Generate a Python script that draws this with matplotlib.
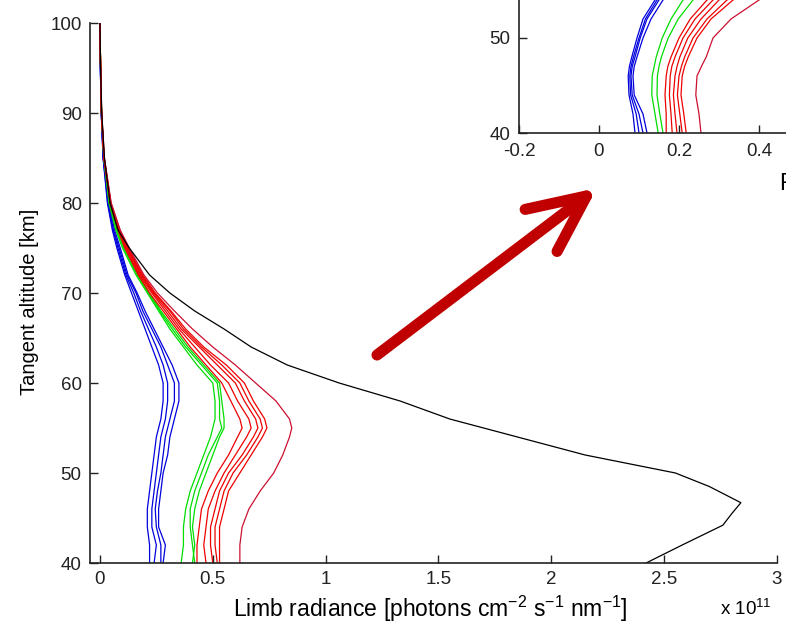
import matplotlib
matplotlib.use("Agg")
import matplotlib.pyplot as plt
from matplotlib.patches import FancyArrowPatch

plt.rcParams['font.family'] = ['Liberation Sans', 'DejaVu Sans']
plt.rcParams['font.size'] = 13

# altitude grid of the coloured model profiles [km]
alt = [100, 95, 90, 85, 80, 77, 75, 72, 70, 68, 66, 64, 62, 60, 58, 56, 55, 54, 52, 50, 48, 46, 44, 42, 40]

# black reference profile
alt_black = [100, 95, 90, 85, 80, 77, 75, 72, 70, 68, 66, 64, 62, 60, 58, 56, 54, 52, 50, 48.5, 46.7, 45.5, 44.2, 42, 40]
rad_black = [0.0, 0.003, 0.008, 0.02, 0.045, 0.08, 0.13, 0.22, 0.31, 0.42, 0.55, 0.67, 0.83, 1.06, 1.33,
             1.55, 1.85, 2.15, 2.55, 2.70, 2.84, 2.80, 2.76, 2.58, 2.42]

blue1 = [0, 0.002, 0.006, 0.014, 0.033, 0.055, 0.075, 0.11, 0.14, 0.17, 0.20, 0.23, 0.26, 0.28, 0.28, 0.27, 0.26, 0.25, 0.24, 0.23, 0.22, 0.21, 0.21, 0.22, 0.22]
blue2 = [0, 0.002, 0.006, 0.014, 0.035, 0.058, 0.08, 0.115, 0.15, 0.18, 0.215, 0.25, 0.28, 0.30, 0.30, 0.29, 0.28, 0.27, 0.26, 0.25, 0.24, 0.23, 0.23, 0.25, 0.24]
blue3 = [0, 0.002, 0.006, 0.015, 0.037, 0.06, 0.085, 0.12, 0.16, 0.19, 0.23, 0.27, 0.30, 0.33, 0.33, 0.31, 0.30, 0.29, 0.28, 0.27, 0.255, 0.245, 0.25, 0.27, 0.27]
blue4 = [0, 0.002, 0.006, 0.015, 0.04, 0.065, 0.09, 0.125, 0.165, 0.20, 0.24, 0.28, 0.32, 0.35, 0.35, 0.33, 0.32, 0.31, 0.30, 0.28, 0.27, 0.26, 0.26, 0.29, 0.28]

green1 = [0, 0.003, 0.007, 0.017, 0.04, 0.07, 0.10, 0.16, 0.21, 0.26, 0.31, 0.37, 0.43, 0.50, 0.51, 0.51, 0.50, 0.49, 0.46, 0.43, 0.40, 0.38, 0.37, 0.37, 0.36]
green2 = [0, 0.003, 0.007, 0.017, 0.042, 0.075, 0.105, 0.165, 0.215, 0.265, 0.32, 0.38, 0.45, 0.52, 0.53, 0.53, 0.54, 0.52, 0.48, 0.45, 0.42, 0.40, 0.40, 0.41, 0.42]
green3 = [0, 0.003, 0.007, 0.018, 0.043, 0.077, 0.11, 0.17, 0.22, 0.27, 0.33, 0.39, 0.46, 0.53, 0.54, 0.55, 0.55, 0.53, 0.50, 0.47, 0.44, 0.42, 0.41, 0.42, 0.41]

red1 = [0, 0.003, 0.007, 0.018, 0.045, 0.08, 0.11, 0.17, 0.22, 0.28, 0.34, 0.40, 0.47, 0.54, 0.58, 0.62, 0.63, 0.61, 0.57, 0.52, 0.48, 0.45, 0.44, 0.43, 0.43]
red2 = [0, 0.003, 0.007, 0.018, 0.046, 0.082, 0.115, 0.175, 0.23, 0.29, 0.35, 0.42, 0.49, 0.57, 0.61, 0.66, 0.67, 0.65, 0.60, 0.55, 0.51, 0.48, 0.47, 0.46, 0.47]
red3 = [0, 0.003, 0.007, 0.018, 0.047, 0.084, 0.12, 0.18, 0.235, 0.30, 0.36, 0.44, 0.52, 0.60, 0.64, 0.69, 0.70, 0.68, 0.63, 0.57, 0.53, 0.51, 0.49, 0.49, 0.50]
red4 = [0, 0.003, 0.007, 0.018, 0.048, 0.086, 0.122, 0.185, 0.24, 0.31, 0.37, 0.45, 0.54, 0.62, 0.66, 0.71, 0.72, 0.70, 0.65, 0.59, 0.55, 0.53, 0.51, 0.51, 0.52]
red5 = [0, 0.003, 0.007, 0.019, 0.049, 0.088, 0.125, 0.19, 0.245, 0.315, 0.38, 0.46, 0.56, 0.64, 0.68, 0.73, 0.74, 0.72, 0.67, 0.62, 0.57, 0.55, 0.53, 0.53, 0.53]
red6 = [0, 0.003, 0.008, 0.02, 0.05, 0.09, 0.13, 0.195, 0.255, 0.33, 0.41, 0.50, 0.60, 0.69, 0.78, 0.84, 0.85, 0.84, 0.81, 0.77, 0.71, 0.66, 0.63, 0.62, 0.62]

# inset (zoom of the lower part, second case)
alt_in = [40, 42, 44, 46, 47, 48, 50, 52, 54, 56]
blue_in = [
    [0.09, 0.085, 0.075, 0.073, 0.076, 0.082, 0.095, 0.11, 0.14, 0.18],
    [0.10, 0.093, 0.079, 0.077, 0.08, 0.086, 0.10, 0.116, 0.145, 0.19],
    [0.11, 0.10, 0.083, 0.08, 0.083, 0.09, 0.103, 0.12, 0.15, 0.195],
    [0.12, 0.11, 0.088, 0.085, 0.088, 0.095, 0.11, 0.13, 0.16, 0.205],
]
green_in = [
    [0.148, 0.14, 0.132, 0.133, 0.138, 0.143, 0.158, 0.18, 0.21, 0.25],
    [0.16, 0.152, 0.145, 0.146, 0.15, 0.156, 0.173, 0.198, 0.235, 0.28],
]
red_in = [
    [0.168, 0.168, 0.165, 0.168, 0.172, 0.18, 0.20, 0.228, 0.27, 0.33],
    [0.183, 0.18, 0.176, 0.178, 0.182, 0.19, 0.21, 0.24, 0.285, 0.35],
    [0.195, 0.19, 0.186, 0.19, 0.195, 0.202, 0.222, 0.255, 0.30, 0.37],
    [0.208, 0.202, 0.196, 0.20, 0.206, 0.214, 0.235, 0.27, 0.32, 0.39],
    [0.218, 0.212, 0.205, 0.208, 0.214, 0.223, 0.245, 0.28, 0.335, 0.41],
    [0.255, 0.25, 0.242, 0.245, 0.256, 0.268, 0.285, 0.33, 0.40, 0.48],
]

BLUE = '#0000dd'
GREEN = '#00dd00'
RED = '#ee0000'
CRIMSON = '#cc1030'

fig = plt.figure(figsize=(7.86, 6.32), dpi=100)
W, H = 786, 632

def style(ax):
    for s in ['top', 'right']:
        ax.spines[s].set_visible(False)
    for s in ['left', 'bottom']:
        ax.spines[s].set_linewidth(1.2)
        ax.spines[s].set_color('#222222')
    ax.tick_params(direction='in', length=6, width=1, pad=6, colors='#222222', labelsize=13.5)
    ax.tick_params(axis='y', pad=6)

# main axes
ax = fig.add_axes([90 / W, 1 - 563 / H, (777 - 90) / W, (563 - 23) / H])
style(ax)
for v in [blue1, blue2, blue3, blue4]:
    ax.plot(v, alt, color=BLUE, lw=0.9)
for v in [green1, green2, green3]:
    ax.plot(v, alt, color=GREEN, lw=0.9)
for v in [red1, red2, red3, red4, red5]:
    ax.plot(v, alt, color=RED, lw=0.9)
ax.plot(red6, alt, color=CRIMSON, lw=0.9)
ax.plot(rad_black, alt_black, color='black', lw=0.9)
ax.set_xlim(-0.044, 3.0)
ax.set_ylim(40, 100)
ax.set_xticks([0, 0.5, 1, 1.5, 2, 2.5, 3])
ax.set_xticklabels(['0', '0.5', '1', '1.5', '2', '2.5', '3'])
ax.set_yticks([40, 50, 60, 70, 80, 90, 100])

fig.text(30 / W, 1 - 302 / H, 'Tangent altitude [km]', rotation=90, ha='center', va='center', fontsize=14.5)
fig.text(430 / W, 1 - 609 / H,
         r'Limb radiance [photons cm$\mathregular{^{-2}}$ s$\mathregular{^{-1}}$ nm$\mathregular{^{-1}}$]',
         ha='center', va='center', fontsize=16.5)
fig.text(720 / W, 1 - 609 / H, r'x 10$\mathregular{^{11}}$', ha='left', va='center', fontsize=13.5)

# big arrow pointing to the inset
arrow = FancyArrowPatch((377 / W, 1 - 355 / H), (597 / W, 1 - 188 / H), transform=fig.transFigure,
                        arrowstyle='->,head_length=41,head_width=19', mutation_scale=1,
                        shrinkA=0, shrinkB=0,
                        color='#c00000', lw=8, capstyle='round', joinstyle='round')
fig.add_artist(arrow)

# inset axes, running off the top right corner
axi = fig.add_axes([519 / W, 1 - 133 / H, 400 / W, 190 / H])
style(axi)
for v in blue_in:
    axi.plot(v, alt_in, color=BLUE, lw=0.9)
for v in green_in:
    axi.plot(v, alt_in, color=GREEN, lw=0.9)
for v in red_in[:-1]:
    axi.plot(v, alt_in, color=RED, lw=0.9)
axi.plot(red_in[-1], alt_in, color=CRIMSON, lw=0.9)
axi.set_xlim(-0.2, 0.8)
axi.set_ylim(40, 60)
axi.set_xticks([-0.2, 0, 0.2, 0.4])
axi.set_xticklabels(['-0.2', '0', '0.2', '0.4'])
axi.set_yticks([40, 50])
axi.tick_params(axis='x', pad=7)
fig.text(779 / W, 1 - 183 / H, 'Radiance', ha='left', va='center', fontsize=16.5)

fig.savefig('out.png', dpi=100)
